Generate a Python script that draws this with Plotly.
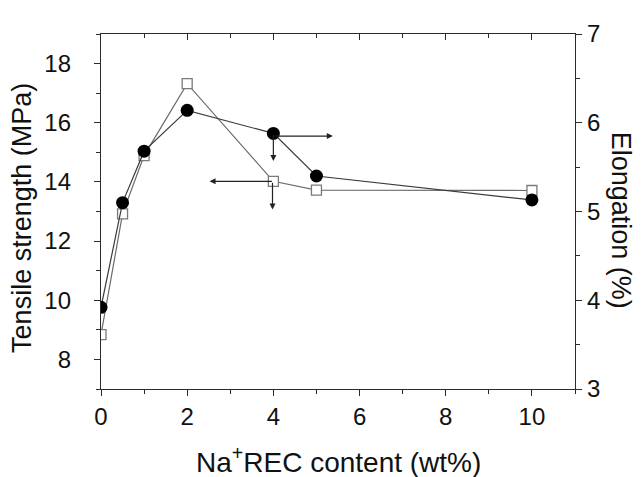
import plotly.graph_objects as go

content = [0, 0.5, 1, 2, 4, 5, 10]
tensile = [8.84, 12.92, 14.89, 17.32, 14.02, 13.72, 13.71]
elongation = [3.92, 5.10, 5.68, 6.14, 5.88, 5.40, 5.13]

x_ticks = [0, 2, 4, 6, 8, 10]
y_ticks = [8, 10, 12, 14, 16, 18]
y2_ticks = [3, 4, 5, 6, 7]

FONT = "Liberation Sans, Arial, sans-serif"
AX = "#2a2a2a"

fig = go.Figure()
fig.add_trace(go.Scatter(
    x=content, y=tensile, mode="lines+markers", yaxis="y", cliponaxis=True,
    line=dict(color="#6a6a6a", width=1.2),
    marker=dict(symbol="square", size=10, color="white", line=dict(color="#7a7a7a", width=1.3)),
    showlegend=False))
fig.add_trace(go.Scatter(
    x=content, y=elongation, mode="lines+markers", yaxis="y2", cliponaxis=True,
    line=dict(color="#3a3a3a", width=1.2),
    marker=dict(symbol="circle", size=13, color="black", line=dict(width=0)),
    showlegend=False))

tickfont = dict(family=FONT, size=24, color="#111")
common = dict(showline=True, linecolor=AX, linewidth=1.3, ticks="outside", ticklen=6,
              tickwidth=1.2, tickcolor=AX, showgrid=False, zeroline=False, tickfont=tickfont)

# the page body adds an 8px offset, so margins are shifted to compensate
fig.update_layout(
    width=642, height=477,
    margin=dict(l=93, r=75, t=18, b=96),
    paper_bgcolor="white", plot_bgcolor="white",
    xaxis=dict(range=[0, 11], tickvals=x_ticks,
               minor=dict(ticks="outside", ticklen=4, tickcolor=AX, dtick=1, tick0=0), **common),
    xaxis2=dict(range=[0, 11], overlaying="x", side="top", showline=True, linecolor=AX, linewidth=1.3,
                ticks="inside", ticklen=6, tickwidth=1.2, tickcolor=AX, tickvals=x_ticks,
                showticklabels=False, showgrid=False, zeroline=False,
                minor=dict(ticks="inside", ticklen=4, tickcolor=AX, dtick=1, tick0=0)),
    yaxis=dict(range=[7, 19], tickvals=y_ticks, ticklabelstandoff=18,
               minor=dict(ticks="outside", ticklen=4, tickcolor=AX, dtick=1, tick0=7), **common),
    yaxis2=dict(range=[3, 7], tickvals=y2_ticks, overlaying="y", side="right",
                minor=dict(ticks="outside", ticklen=4, tickcolor=AX, dtick=0.5, tick0=3), **common),
)
fig.add_trace(go.Scatter(x=[None], y=[None], xaxis="x2", yaxis="y", showlegend=False))

titlefont = dict(family=FONT, size=27, color="#111")
fig.add_annotation(text="Na<sup>+</sup>REC content (wt%)", xref="paper", yref="paper",
                   x=0.5, y=-0.201, xanchor="center", yanchor="middle", showarrow=False,
                   font=dict(family=FONT, size=28, color="#111"))
fig.add_annotation(text="Tensile strength (MPa)", xref="paper", yref="paper",
                   x=-0.168, y=0.483, xanchor="center", yanchor="middle", textangle=-90,
                   showarrow=False, font=titlefont)
fig.add_annotation(text="Elongation (%)", xref="paper", yref="paper",
                   x=1.097, y=0.474, xanchor="center", yanchor="middle", textangle=90,
                   showarrow=False, font=titlefont)

# arrows indicating which axis each series belongs to
arrow = dict(showarrow=True, arrowhead=2, arrowsize=1, arrowwidth=1.2, arrowcolor="#222",
             standoff=0, startstandoff=0, text="")
i4 = content.index(4)
fig.add_annotation(x=5.38, y=elongation[i4] - 0.03, ax=content[i4], ay=elongation[i4] - 0.03,
                   xref="x", yref="y2", axref="x", ayref="y2", **arrow)
fig.add_annotation(x=content[i4], y=5.57, ax=content[i4], ay=elongation[i4],
                   xref="x", yref="y2", axref="x", ayref="y2", **arrow)
fig.add_annotation(x=2.52, y=tensile[i4], ax=content[i4], ay=tensile[i4],
                   xref="x", yref="y", axref="x", ayref="y", **arrow)
fig.add_annotation(x=content[i4] - 0.02, y=13.07, ax=content[i4] - 0.02, ay=tensile[i4],
                   xref="x", yref="y", axref="x", ayref="y", **arrow)

fig.write_html("out.html")
